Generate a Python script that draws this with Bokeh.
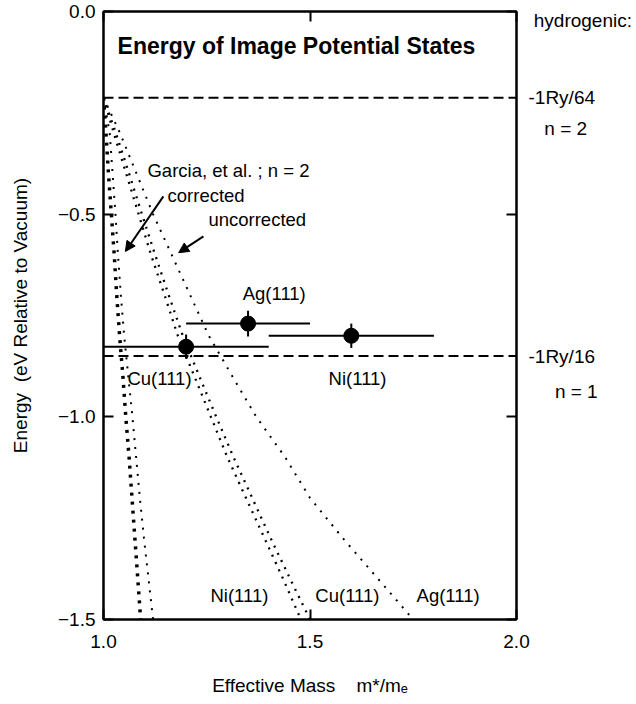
from bokeh.plotting import figure
from bokeh.models import (Range1d, LinearAxis, FixedTicker, Label, ColumnDataSource,
                          Arrow, NormalHead)
from bokeh.embed import file_html
from bokeh.resources import INLINE

# ---------------- data ----------------
energy_grid = [-0.2125, -0.3, -0.4, -0.5, -0.6, -0.7, -0.8, -0.9, -1.0, -1.1, -1.2, -1.3, -1.4, -1.5]
corr_nicu_mass = [1.0, 1.006, 1.012, 1.019, 1.026, 1.032, 1.039, 1.047, 1.054, 1.062, 1.069, 1.076, 1.083, 1.09]
corr_ag_mass = [1.0, 1.015, 1.022, 1.029, 1.035, 1.042, 1.05, 1.06, 1.07, 1.079, 1.088, 1.098, 1.109, 1.12]
uncorr_ni_mass = [1.0, 1.025, 1.055, 1.085, 1.115, 1.148, 1.18, 1.22, 1.26, 1.30, 1.345, 1.39, 1.435, 1.478]
uncorr_cu_mass = [1.0, 1.03, 1.062, 1.093, 1.125, 1.158, 1.192, 1.232, 1.273, 1.315, 1.36, 1.405, 1.452, 1.50]
uncorr_ag_mass = [1.0, 1.04, 1.08, 1.12, 1.165, 1.21, 1.255, 1.312, 1.37, 1.44, 1.50, 1.58, 1.665, 1.75]

hydrogenic_energy = [-0.2125, -0.85]
hydrogenic_labels = ["-1Ry/64", "-1Ry/16"]
hydrogenic_n = ["n = 2", "n = 1"]
hydrogenic_n_pos = [-0.289, -0.938]
hydrogenic_head_pos = -0.022

surfaces = ["Cu(111)", "Ag(111)", "Ni(111)"]
meas_mass = [1.2, 1.35, 1.6]
meas_mass_err = [0.2, 0.15, 0.2]
meas_energy = [-0.827, -0.77, -0.80]
meas_energy_err = [0.03, 0.032, 0.03]

x_ticks = [1.0, 1.5, 2.0]
x_tick_labels = ["1.0", "1.5", "2.0"]
y_ticks = [0.0, -0.5, -1.0, -1.5]
y_tick_labels = ["0.0", "\u22120.5", "\u22121.0", "\u22121.5"]

FONT = "Liberation Sans"
NB = "\u00a0"

p = figure(frame_width=413, frame_height=608, output_backend="svg", toolbar_location=None,
           x_range=Range1d(1.0, 2.0), y_range=Range1d(-1.5, 0.0),
           min_border_left=103, min_border_right=118, min_border_top=11, min_border_bottom=81,
           x_axis_location=None, y_axis_location=None)
p.grid.visible = False
p.outline_line_color = "black"
p.outline_line_width = 2
p.background_fill_color = "white"
p.border_fill_color = "white"


def make_axis(ticks, labels, show_labels):
    ax = LinearAxis(ticker=FixedTicker(ticks=ticks))
    ax.major_label_overrides = {t: (l if show_labels else "") for t, l in zip(ticks, labels)}
    ax.major_tick_in = 10
    ax.major_tick_out = 0
    ax.minor_tick_in = 0
    ax.minor_tick_out = 0
    ax.axis_line_width = 2
    ax.major_tick_line_width = 2
    ax.major_label_text_font = FONT
    ax.major_label_text_font_size = "19px" if show_labels else "0px"
    ax.major_label_text_color = "black"
    ax.major_label_standoff = 8 if show_labels else 0
    ax.axis_label_text_font = FONT
    ax.axis_label_text_font_size = "19px"
    ax.axis_label_text_font_style = "normal"
    ax.axis_label_text_color = "black"
    return ax


left = make_axis(y_ticks, y_tick_labels, True)
left.axis_label = "Energy" + NB + NB + "(eV Relative to Vacuum)"
left.axis_label_standoff = 24
right = make_axis(y_ticks, y_tick_labels, False)
below = make_axis(x_ticks, x_tick_labels, True)
below.major_label_standoff = 15
below.axis_label = "Effective Mass" + NB * 4 + "m*/m\u2091"
below.axis_label_standoff = 24
above = make_axis(x_ticks, x_tick_labels, False)
p.add_layout(left, "left")
p.add_layout(right, "right")
p.add_layout(below, "below")
p.add_layout(above, "above")

# hydrogenic annotation column on the right (text-only axis)
h_ticks = [hydrogenic_head_pos, hydrogenic_energy[0], hydrogenic_n_pos[0],
           hydrogenic_energy[1], hydrogenic_n_pos[1]]
h_labels = [NB + "hydrogenic:", hydrogenic_labels[0], NB * 3 + hydrogenic_n[0],
            hydrogenic_labels[1], NB * 5 + hydrogenic_n[1]]
hax = LinearAxis(ticker=FixedTicker(ticks=h_ticks))
hax.major_label_overrides = dict(zip(h_ticks, h_labels))
hax.axis_line_color = None
hax.major_tick_line_color = None
hax.minor_tick_line_color = None
hax.major_tick_in = 0
hax.major_tick_out = 0
hax.major_label_standoff = 12
hax.major_label_text_font = FONT
hax.major_label_text_font_size = "19px"
hax.major_label_text_color = "black"
p.add_layout(hax, "right")

# hydrogenic dashed levels
for e in hydrogenic_energy:
    p.line([1.0, 2.0], [e, e], line_color="black", line_width=2, line_dash="10 5")

# model curves (dotted)
p.line(corr_nicu_mass, energy_grid, line_color="black", line_width=3.5, line_dash="3 6")
p.line(corr_ag_mass, energy_grid, line_color="black", line_width=2, line_dash="2 7")
p.line(uncorr_ni_mass, energy_grid, line_color="black", line_width=2.3, line_dash="2 6")
p.line(uncorr_cu_mass, energy_grid, line_color="black", line_width=2.3, line_dash="2 6")
p.line(uncorr_ag_mass, energy_grid, line_color="black", line_width=2, line_dash="2 7")

# measured points with error bars
src = ColumnDataSource(dict(
    m=meas_mass, e=meas_energy,
    m0=[m - d for m, d in zip(meas_mass, meas_mass_err)],
    m1=[m + d for m, d in zip(meas_mass, meas_mass_err)],
    e0=[e - d for e, d in zip(meas_energy, meas_energy_err)],
    e1=[e + d for e, d in zip(meas_energy, meas_energy_err)],
))
p.segment(x0="m0", y0="e", x1="m1", y1="e", source=src, line_color="black", line_width=2)
p.segment(x0="m", y0="e0", x1="m", y1="e1", source=src, line_color="black", line_width=2)
p.scatter(x="m", y="e", source=src, size=15, marker="circle", fill_color="black", line_color="black")


def lab(x, y, text, size="18.5px", style="normal", align="left", baseline="middle"):
    p.add_layout(Label(x=x, y=y, text=text, text_font=FONT, text_font_size=size,
                       text_font_style=style, text_align=align, text_baseline=baseline,
                       text_color="black"))


# title
lab(1.034, -0.084, "Energy of Image Potential States", size="23px", style="bold")

# point labels
lab(1.337, -0.696, surfaces[1])
lab(1.058, -0.905, surfaces[0])
lab(1.545, -0.905, surfaces[2])

# curve labels at the bottom
lab(1.259, -1.441, "Ni(111)")
lab(1.513, -1.441, "Cu(111)")
lab(1.758, -1.441, "Ag(111)")

# Garcia annotation
lab(1.1065, -0.392, "Garcia, et al. ; n = 2")
lab(1.155, -0.454, "corrected")
lab(1.254, -0.513, "uncorrected")
p.add_layout(Arrow(x_start=1.145, y_start=-0.456, x_end=1.053, y_end=-0.592,
                   line_color="black", line_width=2,
                   end=NormalHead(size=10, fill_color="black", line_color="black")))
p.add_layout(Arrow(x_start=1.242, y_start=-0.555, x_end=1.182, y_end=-0.595,
                   line_color="black", line_width=2,
                   end=NormalHead(size=10, fill_color="black", line_color="black")))

open("out.html", "w").write(file_html(p, INLINE))
